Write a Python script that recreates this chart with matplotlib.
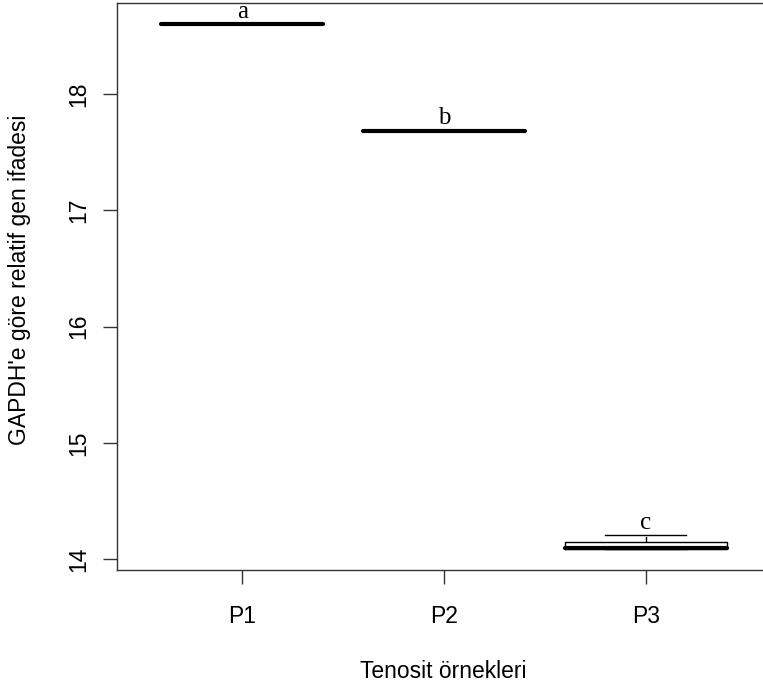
import matplotlib
matplotlib.use("Agg")
import matplotlib.pyplot as plt

# box statistics
groups = ["P1", "P2", "P3"]
whislo = [18.60, 17.68, 14.09]
q1 = [18.60, 17.68, 14.09]
med = [18.60, 17.68, 14.10]
q3 = [18.60, 17.685, 14.15]
whishi = [18.60, 17.69, 14.21]
letters = ["a", "b", "c"]
yticks = [14, 15, 16, 17, 18]

W, H = 763, 693
fig = plt.figure(figsize=(W / 100, H / 100), dpi=100)
# axes spans x = 0.38 .. 3.62 as in R, right edge falls outside the image
ax_l, ax_r, ax_t, ax_b = 117, 771, 3, 570
ax = fig.add_axes([ax_l / W, 1 - ax_b / H, (ax_r - ax_l) / W, (ax_b - ax_t) / H])

stats = []
for i, g in enumerate(groups):
    stats.append(dict(label=g, whislo=whislo[i], q1=q1[i], med=med[i],
                      q3=q3[i], whishi=whishi[i], fliers=[]))

ax.bxp(stats, positions=[1, 2, 3], widths=0.8, showfliers=False,
       boxprops=dict(color="black", linewidth=1.0),
       medianprops=dict(color="black", linewidth=3.0, solid_capstyle="round"),
       whiskerprops=dict(color="black", linewidth=1.0, linestyle=(0, (4, 3))),
       capprops=dict(color="black", linewidth=1.0), capwidths=0.4)

ymin, ymax = min(whislo), max(whishi)
pad = 0.04 * (ymax - ymin)
ax.set_ylim(ymin - pad, ymax + pad)
ax.set_xlim(0.38, 3.62)

for i, lab in enumerate(letters):
    ax.text(i + 1, whishi[i] + 0.055, lab, ha="center", va="baseline",
            fontsize=18, family="Liberation Serif")

fs = 16.5
ax.set_yticks(yticks)
ax.set_yticklabels([str(t) for t in yticks], rotation=90, va="center",
                   family="Liberation Sans", fontsize=fs)
ax.set_xticks([1, 2, 3])
ax.set_xticklabels(groups, family="Liberation Sans", fontsize=fs)
ax.tick_params(direction="out", length=10, width=1, color="#333333")
ax.tick_params(axis="y", pad=9)
ax.tick_params(axis="x", pad=15)

for sp in ax.spines.values():
    sp.set_color("#333333")
    sp.set_linewidth(1.0)

ax.set_ylabel("GAPDH'e göre relatif gen ifadesi", family="Liberation Sans",
              fontsize=fs)
ax.yaxis.label.set_va("center")
ax.yaxis.set_label_coords((20 - ax_l) / (ax_r - ax_l), (ax_b - 280) / (ax_b - ax_t))
ax.set_xlabel("Tenosit örnekleri", family="Liberation Sans", fontsize=fs)
ax.xaxis.label.set_va("center")
ax.xaxis.set_label_coords((443 - ax_l) / (ax_r - ax_l), -(671 - ax_b) / (ax_b - ax_t))

fig.savefig("out.png", dpi=100)
